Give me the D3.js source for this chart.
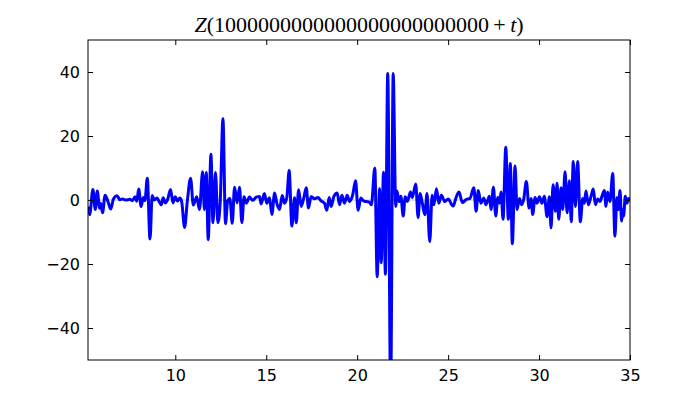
<!DOCTYPE html>
<html>
<head>
<meta charset="utf-8">
<script src="https://cdnjs.cloudflare.com/ajax/libs/d3/7.8.5/d3.min.js"></script>
<style>
  body { margin: 0; background: #fff; }
  svg { display: block; }
</style>
</head>
<body>
<div id="chart"></div>
<script>
// values (local peaks and troughs of Z)
const tValues = [
  5.2, 5.29, 5.47, 5.6, 5.71, 5.84, 5.9, 6.0, 6.14, 6.3, 6.45, 6.6, 6.8, 6.95, 7.1, 7.3, 7.5, 7.65,
  7.78, 7.88, 7.99, 8.12, 8.24, 8.33, 8.46, 8.61, 8.73, 8.85, 9.0, 9.1, 9.23, 9.33, 9.45, 9.58,
  9.74, 9.87, 10.0, 10.12, 10.25, 10.35, 10.51, 10.66, 10.84, 10.99, 11.18, 11.33, 11.5, 11.6,
  11.7, 11.81, 11.96, 12.07, 12.21, 12.34, 12.47, 12.62, 12.76, 12.88, 13.0, 13.13, 13.26, 13.4,
  13.53, 13.66, 13.78, 13.9, 14.08, 14.25, 14.45, 14.63, 14.72, 14.9, 15.03, 15.18, 15.31, 15.46,
  15.58, 15.73, 15.88, 16.0, 16.13, 16.26, 16.41, 16.56, 16.65, 16.78, 16.92, 17.07, 17.2, 17.32,
  17.47, 17.65, 17.85, 18.0, 18.2, 18.33, 18.46, 18.57, 18.72, 18.9, 19.03, 19.16, 19.3, 19.45,
  19.58, 19.75, 19.91, 20.05, 20.2, 20.35, 20.5, 20.65, 20.78, 20.97, 21.1, 21.23, 21.32, 21.45,
  21.55, 21.68, 21.84, 21.98, 22.12, 22.19, 22.3, 22.4, 22.53, 22.64, 22.76, 22.93, 23.03, 23.22,
  23.35, 23.46, 23.58, 23.72, 23.84, 23.99, 24.12, 24.22, 24.36, 24.49, 24.63, 24.82, 25.0, 25.27,
  25.45, 25.6, 25.78, 26.0, 26.2, 26.41, 26.54, 26.66, 26.8, 26.96, 27.08, 27.27, 27.36, 27.49,
  27.62, 27.73, 27.82, 27.91, 28.02, 28.17, 28.31, 28.42, 28.53, 28.68, 28.79, 28.92, 29.05, 29.16,
  29.3, 29.45, 29.56, 29.65, 29.78, 29.89, 30.02, 30.16, 30.29, 30.44, 30.57, 30.66, 30.77, 30.9,
  30.99, 31.08, 31.21, 31.3, 31.43, 31.54, 31.67, 31.77, 31.88, 32.0, 32.12, 32.27, 32.4, 32.49,
  32.58, 32.71, 32.86, 32.98, 33.1, 33.23, 33.35, 33.46, 33.59, 33.68, 33.77, 33.9, 34.05, 34.17,
  34.28, 34.36, 34.45, 34.54, 34.6, 34.65, 34.74, 34.83, 34.92, 35.0
];
const zValues = [
  -2, -4.6, 3.3, -3.0, 2.8, -2.6, -1.0, -4.0, 1.5, -0.5, -2.8, 0.3, 1.3, 0.1, 0.3, 0.0, 0.2, -0.2,
  1.0, -0.4, 3.4, -2.0, 0.8, -0.2, 6.8, -12.2, 1.4, 0.0, 0.6, -0.4, -1.5, 0.7, -0.9, 0.2,
  3.3, -0.9, 1.0, -0.3, 0.6, -0.5, -8.6, -0.4, 6.8, -1.6, 1.0, -3.0, 8.8, -3.0,
  8.6, -12.4, 14.3, -7.1, 8.6, -7.1, -0.5, 25.4, -7.4, -0.3, 0.5, -7.3, 4.0, -0.9,
  4.0, -7.1, 1.0, -1.0, 0.9, -0.1, 0.9, 1.1, -1.2, 2.0, -1.0, 0.7, -4.5, 2.2,
  -1.0, -3.0, 1.4, -1.0, 0.7, 9.2, -8.1, 0.7, -7.1, 3.2, -2.0, 0.8, 3.8, -2.5,
  1.1, 0.4, 0.8, -0.2, -1.0, -3.2, 0.8, -2.0, 1.1, 2.2, -1.5, 1.5, -1.0, 1.5,
  -0.5, 1.5, 6.0, -3.2, 0.6, -0.3, -0.5, -0.6, -1.5, 10.0, -24.0, 3.5, -19.6, 8.7,
  -23.2, 39.5, -60, 39.5, -2.0, 2.8, -0.5, 1.2, -5.0, 1.0, -0.5, 2.5, 0.8, 5.0,
  -5.5, 2.0, -1.0, -4.6, 2.0, -13.0, 1.5, -1.5, 3.5, -1.0, 1.5, -0.5, 0.3, -1.9,
  1.0, 2.5, -0.8, 0.2, 0.5, 3.8, -3.5, 3.0, -1.0, 0.6, -1.5, 1.2, -3.0, 4.0,
  -5.0, 0.8, -1.0, 2.5, -6.0, 16.5, -6.0, 11.4, -13.7, 10.6, -3.0, 0.5, -1.5, 0.3,
  5.8, -2.5, 0.5, -4.5, 0.8, -1.0, 1.0, -1.0, 1.2, -5.2, 1.0, -8.7, 4.8, -3.5,
  5.2, -6.0, 3.8, -3.0, 8.8, -4.0, 6.0, -6.8, 12.0, -2.0, 12.0, -6.8, 0.5, -1.0,
  2.8, -1.5, 1.2, 3.4, -1.5, 0.3, -0.5, 1.2, 3.0, -2.0, 2.5, -0.5, 8.3, -11.3,
  0.8, -3.0, 3.0, -6.6, -3.0, -5.0, 1.2, -1.0, 0.5, -0.5
];
const xTicks = [10, 15, 20, 25, 30, 35];
const yTicks = [-40, -20, 0, 20, 40];
const xDomain = [5.2, 35];
const yDomain = [-50, 50];

const W = 700, H = 400;
const margin = {top: 40, right: 70, bottom: 40, left: 88};
const iw = W - margin.left - margin.right;
const ih = H - margin.top - margin.bottom;

const svg = d3.select("#chart").append("svg")
  .attr("width", W)
  .attr("height", H);

const x = d3.scaleLinear().domain(xDomain).range([0, iw]);
const y = d3.scaleLinear().domain(yDomain).range([ih, 0]);

const g = svg.append("g")
  .attr("transform", "translate(" + margin.left + "," + margin.top + ")");

g.append("clipPath").attr("id", "clip")
  .append("rect").attr("width", iw).attr("height", ih);

const data = tValues.map((t, i) => ({t: t, z: zValues[i]}));

const line = d3.line()
  .x(d => x(d.t))
  .y(d => y(d.z))
  .curve(d3.curveMonotoneX);

g.append("path")
  .datum(data)
  .attr("clip-path", "url(#clip)")
  .attr("d", line)
  .style("fill", "none")
  .style("stroke", "#0000ff")
  .style("stroke-width", 3)
  .style("stroke-linejoin", "round");

// thin zero line
g.append("line")
  .attr("x1", 0).attr("x2", iw)
  .attr("y1", y(0)).attr("y2", y(0))
  .style("stroke", "#000")
  .style("stroke-opacity", 0.4)
  .style("stroke-width", 0.6);

// axes, matplotlib classic: ticks inside on all four sides
const font = "'DejaVu Sans', sans-serif";
const tickLen = 5;

const xAxis = g.append("g").attr("transform", "translate(0," + ih + ")")
  .call(d3.axisBottom(x).tickValues(xTicks).tickSizeInner(-tickLen).tickSizeOuter(0).tickPadding(10));
const xTop = g.append("g")
  .call(d3.axisTop(x).tickValues(xTicks).tickSizeInner(-tickLen).tickSizeOuter(0).tickFormat(""));
const yAxis = g.append("g")
  .call(d3.axisLeft(y).tickValues(yTicks).tickSizeInner(-tickLen).tickSizeOuter(0).tickPadding(8)
    .tickFormat(d => d < 0 ? "\u2212" + Math.abs(d) : d));
const yRight = g.append("g").attr("transform", "translate(" + iw + ",0)")
  .call(d3.axisRight(y).tickValues(yTicks).tickSizeInner(-tickLen).tickSizeOuter(0).tickFormat(""));

[xAxis, xTop, yAxis, yRight].forEach(a => {
  a.select(".domain").remove();
  a.selectAll("line").style("stroke", "#000").style("stroke-width", 1);
  a.selectAll("text").style("font-family", font).style("font-size", "16px").style("fill", "#000");
});

g.append("rect")
  .attr("width", iw).attr("height", ih)
  .style("fill", "none")
  .style("stroke", "#000")
  .style("stroke-width", 1);

// title in mathtext style
const title = svg.append("text")
  .attr("x", margin.left + iw / 2)
  .attr("y", 32)
  .attr("text-anchor", "middle")
  .style("font-family", "'Liberation Serif', 'DejaVu Serif', serif")
  .style("font-size", "22px");
title.append("tspan").style("font-style", "italic").text("Z");
title.append("tspan").text("(1000000000000000000000000\u2009+\u2009");
title.append("tspan").style("font-style", "italic").text("t");
title.append("tspan").text(")");
</script>
</body>
</html>
